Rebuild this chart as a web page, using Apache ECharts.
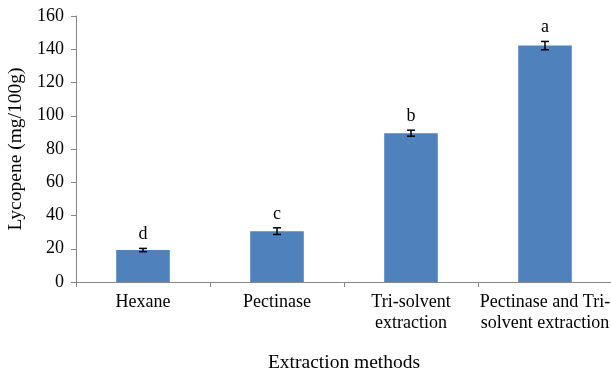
<!DOCTYPE html>
<html><head><meta charset="utf-8">
<script src="https://cdn.jsdelivr.net/npm/echarts@6/dist/echarts.min.js"></script>
<style>html,body{margin:0;padding:0;background:#fff}#c{width:611px;height:371px}</style>
</head><body><div id="c"></div>
<script>
const categories = ['Hexane', 'Pectinase', 'Tri-solvent\nextraction', 'Pectinase and Tri-\nsolvent extraction'];
const values = [19.2, 30.6, 89.5, 142.2];
const errors = [1.0, 2.0, 1.8, 2.5];
const letters = ['d', 'c', 'b', 'a'];
const yTicks = [0, 20, 40, 60, 80, 100, 120, 140, 160];

const chart = echarts.init(document.getElementById('c'));
const font = '"Liberation Serif", "Times New Roman", serif';
chart.setOption({
  animation: false,
  grid: {left: 76, right: -1, top: 16, bottom: 89, containLabel: false, outerBoundsMode: 'none'},
  xAxis: {
    type: 'category', data: categories,
    name: 'Extraction methods', nameLocation: 'middle', nameGap: 71,
    nameTextStyle: {fontFamily: font, fontSize: 19.5, color: '#000'},
    axisLine: {lineStyle: {color: '#868686'}},
    axisTick: {show: true, alignWithLabel: false, length: 5, lineStyle: {color: '#868686'}},
    axisLabel: {fontFamily: font, fontSize: 18, color: '#000', margin: 10, lineHeight: 21, interval: 0}
  },
  yAxis: {
    type: 'value', min: 0, max: 160, interval: 20,
    name: 'Lycopene (mg/100g)', nameLocation: 'middle', nameGap: 47,
    nameTextStyle: {fontFamily: font, fontSize: 19.5, color: '#000'},
    axisLine: {show: true, lineStyle: {color: '#868686'}},
    axisTick: {show: true, length: 5, lineStyle: {color: '#868686'}},
    splitLine: {show: false},
    axisLabel: {fontFamily: font, fontSize: 18, color: '#000', margin: 12,
      formatter: v => yTicks.includes(v) ? String(v) : ''}
  },
  series: [
    {type: 'bar', data: values, barWidth: '40%', itemStyle: {color: '#4f81bd'}},
    {type: 'custom', data: values.map((v, i) => [i, v, errors[i], letters[i]]),
      renderItem: function (params, api) {
        const x = api.value(0), v = api.value(1), e = api.value(2);
        const lo = api.coord([x, v - e]);
        const hi = api.coord([x, v + e]);
        const w = 4;
        const st = {stroke: '#000', lineWidth: 1.5};
        return {type: 'group', children: [
          {type: 'line', shape: {x1: lo[0], y1: lo[1], x2: hi[0], y2: hi[1]}, style: st},
          {type: 'line', shape: {x1: lo[0] - w, y1: lo[1], x2: lo[0] + w, y2: lo[1]}, style: st},
          {type: 'line', shape: {x1: hi[0] - w, y1: hi[1], x2: hi[0] + w, y2: hi[1]}, style: st},
          {type: 'text', style: {text: letters[params.dataIndex], x: hi[0], y: hi[1] - 5,
            textAlign: 'center', textVerticalAlign: 'bottom', font: '18px ' + font, fill: '#000'}}
        ]};
      }, z: 5}
  ]
});
</script></body></html>
